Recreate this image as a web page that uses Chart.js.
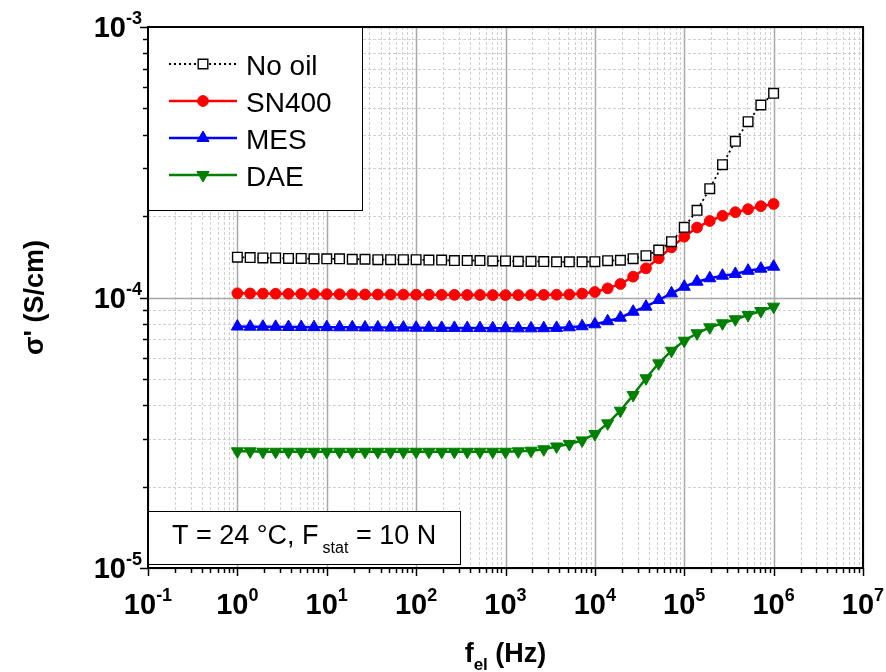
<!DOCTYPE html>
<html><head><meta charset="utf-8">
<script src="https://cdn.jsdelivr.net/npm/chart.js@4.4.0/dist/chart.umd.min.js"></script>
<style>html,body{margin:0;padding:0;background:#fff;}canvas{display:block;}</style>
</head><body>
<canvas id="c" width="886" height="672"></canvas>
<script>
// ---- data (frequency in Hz, sigma' in S/cm) ----
const frequencies = [
  1,1.39,1.93,2.68,3.73,5.18,7.2,
  10,13.9,19.3,26.8,37.3,51.8,72,
  100,139,193,268,373,518,720,
  1000,1390,1930,2680,3730,5180,7200,
  1e4,1.39e4,1.93e4,2.68e4,3.73e4,5.18e4,7.2e4,
  1e5,1.39e5,1.93e5,2.68e5,3.73e5,5.18e5,7.2e5,
  1e6
];
const noOil = [
  1.41e-4,1.405e-4,1.40e-4,1.40e-4,1.395e-4,1.395e-4,1.39e-4,
  1.39e-4,1.39e-4,1.385e-4,1.385e-4,1.38e-4,1.38e-4,1.38e-4,
  1.38e-4,1.375e-4,1.375e-4,1.37e-4,1.37e-4,1.37e-4,1.365e-4,
  1.365e-4,1.36e-4,1.36e-4,1.358e-4,1.355e-4,1.355e-4,1.355e-4,
  1.357e-4,1.368e-4,1.373e-4,1.391e-4,1.427e-4,1.498e-4,1.608e-4,
  1.817e-4,2.101e-4,2.525e-4,3.097e-4,3.779e-4,4.467e-4,5.148e-4,
  5.687e-4
];
const sn400 = [
  1.036e-4,1.035e-4,1.034e-4,1.033e-4,1.032e-4,1.031e-4,1.030e-4,
  1.029e-4,1.028e-4,1.027e-4,1.026e-4,1.026e-4,1.025e-4,1.025e-4,
  1.024e-4,1.024e-4,1.023e-4,1.023e-4,1.022e-4,1.022e-4,1.021e-4,
  1.021e-4,1.021e-4,1.022e-4,1.023e-4,1.024e-4,1.026e-4,1.034e-4,
  1.048e-4,1.081e-4,1.122e-4,1.194e-4,1.282e-4,1.396e-4,1.533e-4,
  1.678e-4,1.814e-4,1.918e-4,2.005e-4,2.067e-4,2.121e-4,2.176e-4,
  2.217e-4
];
const mes = [
  7.81e-5,7.80e-5,7.80e-5,7.79e-5,7.78e-5,7.78e-5,7.77e-5,
  7.77e-5,7.76e-5,7.76e-5,7.75e-5,7.75e-5,7.74e-5,7.74e-5,
  7.73e-5,7.73e-5,7.72e-5,7.72e-5,7.71e-5,7.71e-5,7.70e-5,
  7.70e-5,7.69e-5,7.69e-5,7.70e-5,7.72e-5,7.76e-5,7.83e-5,
  7.96e-5,8.17e-5,8.42e-5,8.86e-5,9.25e-5,9.79e-5,1.036e-4,
  1.096e-4,1.144e-4,1.178e-4,1.204e-4,1.222e-4,1.256e-4,1.278e-4,
  1.300e-4
];
const dae = [
  2.70e-5,2.70e-5,2.69e-5,2.69e-5,2.69e-5,2.69e-5,2.69e-5,
  2.69e-5,2.69e-5,2.69e-5,2.69e-5,2.69e-5,2.69e-5,2.69e-5,
  2.69e-5,2.69e-5,2.69e-5,2.69e-5,2.69e-5,2.69e-5,2.69e-5,
  2.69e-5,2.70e-5,2.714e-5,2.747e-5,2.813e-5,2.873e-5,2.962e-5,
  3.128e-5,3.426e-5,3.815e-5,4.36e-5,5.028e-5,5.711e-5,6.357e-5,
  6.922e-5,7.376e-5,7.76e-5,8.03e-5,8.31e-5,8.62e-5,8.915e-5,
  9.25e-5
];
const seriesNames = ['No oil','SN400','MES','DAE'];
const xTickExponents = [-1,0,1,2,3,4,5,6,7];
const yTickExponents = [-5,-4,-3];
const xTitle = ['f','el',' (Hz)'];
const yTitle = "σ' (S/cm)";
const noteText = ['T = 24 °C, F','stat',' = 10 N'];

// ---- styling ----
const FONT = "'Liberation Sans', Arial, sans-serif";
const styles = [
  {color:'#000000', width:1.8, dash:[2,3], point:'rect', r:6.8, fill:'#ffffff', pbw:1.4, rot:0},
  {color:'#ff0000', width:2.5, dash:[], point:'circle', r:5.4, fill:'#ff0000', pbw:1, rot:0},
  {color:'#0000ff', width:2.5, dash:[], point:'triangle', r:7, fill:'#0000ff', pbw:1, rot:0},
  {color:'#008000', width:2.5, dash:[], point:'triangle', r:7, fill:'#008000', pbw:1, rot:180}
];
const seriesValues = [noOil, sn400, mes, dae];

const datasets = seriesValues.map((vals, k) => ({
  label: seriesNames[k],
  data: frequencies.map((f, i) => ({x: f, y: vals[i]})),
  borderColor: styles[k].color,
  borderWidth: styles[k].width,
  borderDash: styles[k].dash,
  pointStyle: styles[k].point,
  pointRadius: styles[k].r,
  pointRotation: styles[k].rot,
  pointBackgroundColor: styles[k].fill,
  pointBorderColor: styles[k].color,
  pointBorderWidth: styles[k].pbw,
  tension: 0,
  fill: false
}));

function gridValues(minE, maxE) {
  const out = [];
  for (let e = minE; e <= maxE; e++) {
    for (let m = 1; m <= 9; m++) {
      if (e === maxE && m > 1) break;
      out.push({v: m * Math.pow(10, e), major: m === 1, e});
    }
  }
  return out;
}

function drawPow(ctx, exp, x, y, align) {
  ctx.font = "bold 29px " + FONT;
  const wb = ctx.measureText('10').width;
  ctx.font = "bold 18px " + FONT;
  const es = String(exp);
  const we = ctx.measureText(es).width;
  const w = wb + we;
  let sx = align === 'center' ? x - w / 2 : x - w;
  ctx.fillStyle = '#000';
  ctx.textAlign = 'left';
  ctx.textBaseline = 'alphabetic';
  ctx.font = "bold 29px " + FONT;
  ctx.fillText('10', sx, y);
  ctx.font = "bold 18px " + FONT;
  ctx.fillText(es, sx + wb, y - 13);
}

function marker(ctx, st, x, y) {
  ctx.save();
  ctx.fillStyle = st.fill;
  ctx.strokeStyle = st.color;
  ctx.lineWidth = st.pbw;
  ctx.setLineDash([]);
  Chart.helpers.drawPoint(ctx, {pointStyle: st.point, radius: st.r, rotation: st.rot, borderWidth: st.pbw}, x, y);
  ctx.restore();
}

const decor = {
  id: 'decor',
  beforeDatasetsDraw(chart) {
    const ctx = chart.ctx, a = chart.chartArea;
    const xs = chart.scales.x, ys = chart.scales.y;
    ctx.save();
    gridValues(-1, 7).forEach(g => {
      const px = Math.round(xs.getPixelForValue(g.v)) + 0.5;
      ctx.beginPath();
      ctx.strokeStyle = g.major ? '#a8a8a8' : '#d0d0d0';
      ctx.lineWidth = g.major ? 1.5 : 1;
      ctx.setLineDash(g.major ? [] : [3, 2]);
      ctx.moveTo(px, a.top); ctx.lineTo(px, a.bottom); ctx.stroke();
    });
    gridValues(-5, -3).forEach(g => {
      const py = Math.round(ys.getPixelForValue(g.v)) + 0.5;
      ctx.beginPath();
      ctx.strokeStyle = g.major ? '#a8a8a8' : '#d0d0d0';
      ctx.lineWidth = g.major ? 1.5 : 1;
      ctx.setLineDash(g.major ? [] : [3, 2]);
      ctx.moveTo(a.left, py); ctx.lineTo(a.right, py); ctx.stroke();
    });
    ctx.restore();
  },
  afterDatasetsDraw(chart) {
    const ctx = chart.ctx, a = chart.chartArea;
    const xs = chart.scales.x, ys = chart.scales.y;
    ctx.save();
    ctx.setLineDash([]);
    // frame
    ctx.strokeStyle = '#000';
    ctx.lineWidth = 2;
    ctx.strokeRect(a.left, a.top, a.right - a.left, a.bottom - a.top);
    // ticks
    ctx.lineWidth = 1.5;
    gridValues(-1, 7).forEach(g => {
      const px = Math.round(xs.getPixelForValue(g.v)) + 0.5;
      ctx.beginPath(); ctx.moveTo(px, a.bottom); ctx.lineTo(px, a.bottom + (g.major ? 8 : 5)); ctx.stroke();
    });
    gridValues(-5, -3).forEach(g => {
      const py = Math.round(ys.getPixelForValue(g.v)) + 0.5;
      ctx.beginPath(); ctx.moveTo(a.left, py); ctx.lineTo(a.left - (g.major ? 8 : 5), py); ctx.stroke();
    });
    // tick labels
    xTickExponents.forEach(e => drawPow(ctx, e, xs.getPixelForValue(Math.pow(10, e)), 614, 'center'));
    yTickExponents.forEach(e => drawPow(ctx, e, a.left - 6, ys.getPixelForValue(Math.pow(10, e)) + 10, 'right'));
    // x title
    ctx.fillStyle = '#000';
    ctx.textAlign = 'left';
    ctx.font = "bold 27px " + FONT;
    const w1 = ctx.measureText(xTitle[0]).width;
    const w3 = ctx.measureText(xTitle[2]).width;
    ctx.font = "bold 17px " + FONT;
    const w2 = ctx.measureText(xTitle[1]).width;
    let sx = (a.left + a.right) / 2 - (w1 + w2 + w3) / 2;
    ctx.font = "bold 27px " + FONT;
    ctx.fillText(xTitle[0], sx, 662);
    ctx.font = "bold 17px " + FONT;
    ctx.fillText(xTitle[1], sx + w1, 670);
    ctx.font = "bold 27px " + FONT;
    ctx.fillText(xTitle[2], sx + w1 + w2, 662);
    // y title
    ctx.save();
    ctx.translate(43, (a.top + a.bottom) / 2);
    ctx.rotate(-Math.PI / 2);
    ctx.textAlign = 'center';
    ctx.font = "bold 27px " + FONT;
    ctx.fillText(yTitle, 0, 0);
    ctx.restore();
    // legend
    const lx = a.left, ly = a.top, lw = 214, lh = 183;
    ctx.fillStyle = '#fff';
    ctx.fillRect(lx, ly, lw, lh);
    ctx.strokeStyle = '#000';
    ctx.lineWidth = 1;
    ctx.strokeRect(lx + 0.5, ly + 0.5, lw, lh);
    const rows = [64, 101, 138, 175];
    seriesNames.forEach((name, k) => {
      const st = styles[k], y = rows[k];
      ctx.beginPath();
      ctx.strokeStyle = st.color;
      ctx.lineWidth = st.width;
      ctx.setLineDash(st.dash);
      ctx.moveTo(169, y); ctx.lineTo(237, y); ctx.stroke();
      ctx.setLineDash([]);
      marker(ctx, st, 203, y);
      ctx.fillStyle = '#000';
      ctx.font = "28px " + FONT;
      ctx.textAlign = 'left';
      ctx.fillText(name, 246, y + 11);
    });
    // note box
    ctx.fillStyle = '#fff';
    ctx.fillRect(a.left, 511, 312, 53);
    ctx.strokeStyle = '#000';
    ctx.lineWidth = 1;
    ctx.strokeRect(a.left + 0.5, 511.5, 312, 53);
    ctx.fillStyle = '#000';
    ctx.font = "27px " + FONT;
    let nx = 172;
    ctx.fillText(noteText[0], nx, 544);
    nx += ctx.measureText(noteText[0]).width + 4;
    ctx.font = "16px " + FONT;
    ctx.fillText(noteText[1], nx, 553);
    nx += ctx.measureText(noteText[1]).width;
    ctx.font = "27px " + FONT;
    ctx.fillText(noteText[2], nx, 544);
    ctx.restore();
  }
};

new Chart(document.getElementById('c'), {
  type: 'line',
  data: {datasets},
  options: {
    responsive: false,
    animation: false,
    events: [],
    layout: {padding: {top: 27, right: 23, left: 0, bottom: 0}},
    plugins: {legend: {display: false}, tooltip: {enabled: false}},
    scales: {
      x: {
        type: 'logarithmic', min: 0.1, max: 1e7,
        grid: {display: false}, border: {display: false},
        ticks: {display: false},
        afterFit(s) { s.height = 104; }
      },
      y: {
        type: 'logarithmic', min: 1e-5, max: 1e-3,
        grid: {display: false}, border: {display: false},
        ticks: {display: false},
        afterFit(s) { s.width = 148; }
      }
    }
  },
  plugins: [decor]
});
</script>
</body></html>
